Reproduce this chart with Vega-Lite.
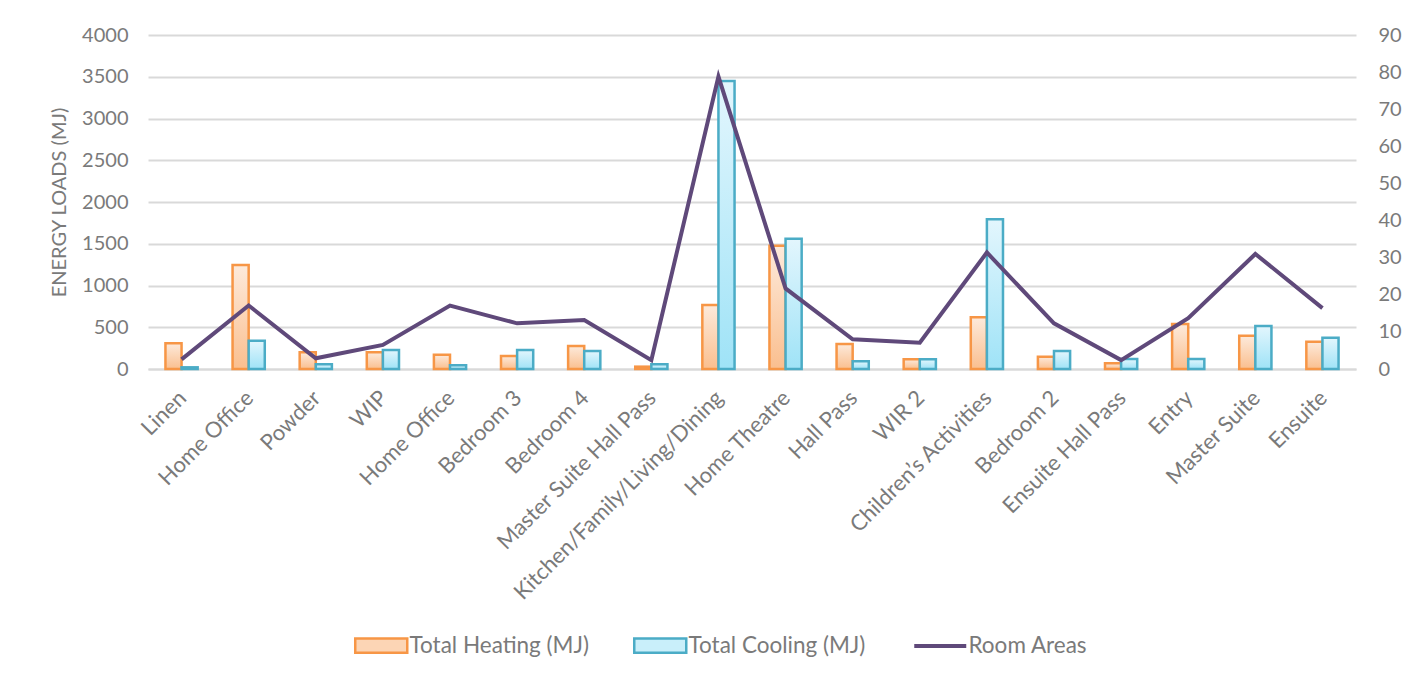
{
  "$schema": "https://vega.github.io/schema/vega-lite/v6.json",
  "width": 1208,
  "height": 334,
  "autosize": {"type": "none"},
  "padding": {"left": 148, "top": 35, "right": 69, "bottom": 310},
  "background": "white",
  "config": {
    "view": {"stroke": null},
    "font": "Lato",
    "axis": {
      "labelFont": "Lato",
      "labelFontSize": 20,
      "labelColor": "#7a7a7a",
      "domain": false,
      "ticks": false,
      "titleFont": "Lato",
      "titleColor": "#7a7a7a",
      "titleFontWeight": "normal"
    },
    "axisX": {
      "labelAngle": -45,
      "labelPadding": 18,
      "labelOffset": -6,
      "labelFontSize": 22,
      "labelLimit": 0,
      "grid": false,
      "domain": true,
      "domainColor": "#d9d9d9",
      "domainWidth": 2,
      "title": null,
      "labelExpr": "replace(datum.label, '#2', '')"
    },
    "axisY": {"gridColor": "#d9d9d9", "gridWidth": 2, "labelPadding": 20, "format": "d"},
    "legend": {
      "orient": "none", "legendX": 222, "legendY": 599, "direction": "horizontal", "title": null,
      "labelFont": "Lato", "labelFontSize": 22.5, "labelColor": "#7a7a7a", "labelLimit": 0,
      "symbolSize": 2704, "columnPadding": 40, "labelOffset": 17
    }
  },
  "data": {
    "values": [
      {"room": "Linen", "Total Heating (MJ)": 308, "Total Cooling (MJ)": 20, "area": 2.6},
      {"room": "Home Office", "Total Heating (MJ)": 1246, "Total Cooling (MJ)": 339, "area": 17.1},
      {"room": "Powder", "Total Heating (MJ)": 200, "Total Cooling (MJ)": 56, "area": 2.9},
      {"room": "WIP", "Total Heating (MJ)": 200, "Total Cooling (MJ)": 228, "area": 6.5},
      {"room": "Home Office#2", "Total Heating (MJ)": 171, "Total Cooling (MJ)": 44, "area": 17.1},
      {"room": "Bedroom 3", "Total Heating (MJ)": 156, "Total Cooling (MJ)": 228, "area": 12.3},
      {"room": "Bedroom 4", "Total Heating (MJ)": 276, "Total Cooling (MJ)": 216, "area": 13.2},
      {"room": "Master Suite Hall Pass", "Total Heating (MJ)": 28, "Total Cooling (MJ)": 56, "area": 2.4},
      {"room": "Kitchen/Family/Living/Dining", "Total Heating (MJ)": 767, "Total Cooling (MJ)": 3450, "area": 78.8},
      {"room": "Home Theatre", "Total Heating (MJ)": 1477, "Total Cooling (MJ)": 1561, "area": 21.7},
      {"room": "Hall Pass", "Total Heating (MJ)": 300, "Total Cooling (MJ)": 92, "area": 8.0},
      {"room": "WIR 2", "Total Heating (MJ)": 116, "Total Cooling (MJ)": 116, "area": 7.1},
      {"room": "Children’s Activities", "Total Heating (MJ)": 619, "Total Cooling (MJ)": 1793, "area": 31.4},
      {"room": "Bedroom 2", "Total Heating (MJ)": 148, "Total Cooling (MJ)": 216, "area": 12.3},
      {"room": "Ensuite Hall Pass", "Total Heating (MJ)": 68, "Total Cooling (MJ)": 120, "area": 2.4},
      {"room": "Entry", "Total Heating (MJ)": 539, "Total Cooling (MJ)": 120, "area": 13.7},
      {"room": "Master Suite", "Total Heating (MJ)": 399, "Total Cooling (MJ)": 515, "area": 31.0},
      {"room": "Ensuite", "Total Heating (MJ)": 327, "Total Cooling (MJ)": 375, "area": 16.4}
    ]
  },
  "layer": [
    {
      "layer": [
        {
          "transform": [
            {"fold": ["Total Heating (MJ)", "Total Cooling (MJ)"], "as": ["series", "value"]},
            {"filter": "datum.series === 'Total Heating (MJ)'"}
          ],
          "mark": {
            "type": "bar",
            "strokeWidth": 2.5,
            "fill": {"gradient": "linear", "x1": 0, "y1": 0, "x2": 0, "y2": 1,
              "stops": [{"offset": 0, "color": "#fdeadb"}, {"offset": 1, "color": "#fabf8f"}]}
          },
          "encoding": {
            "x": {"field": "room", "type": "nominal", "sort": null, "scale": {"paddingInner": 0.52, "paddingOuter": 0.26}},
            "xOffset": {"field": "series", "type": "nominal", "scale": {"domain": ["Total Heating (MJ)", "Total Cooling (MJ)"]}},
            "y": {"field": "value", "type": "quantitative", "scale": {"domain": [0, 4000]}, "axis": {"values": [0, 500, 1000, 1500, 2000, 2500, 3000, 3500, 4000], "title": "ENERGY LOADS (MJ)", "titleFontSize": 20, "titlePadding": 12}},
            "stroke": {
              "field": "series", "type": "nominal",
              "scale": {"domain": ["Total Heating (MJ)", "Total Cooling (MJ)", "Room Areas"], "range": ["#f79646", "#4bacc6", "#5f497a"]},
              "legend": {
                "symbolSize": 2704, "labelLimit": 0,
                "encode": {"symbols": {"update": {
                  "shape": {"signal": "datum.value === 'Room Areas' ? 'M-1,0H1' : 'M-1,-0.27H1V0.27H-1Z'"},
                  "fill": {"signal": "datum.value === 'Total Heating (MJ)' ? '#fcd5b5' : datum.value === 'Total Cooling (MJ)' ? '#c9effa' : 'transparent'"},
                  "strokeWidth": {"signal": "datum.value === 'Room Areas' ? 4 : 2.5"},
                  "opacity": {"value": 1}
                }}}
              }
            }
          }
        },
        {
          "transform": [
            {"fold": ["Total Heating (MJ)", "Total Cooling (MJ)"], "as": ["series", "value"]},
            {"filter": "datum.series === 'Total Cooling (MJ)'"}
          ],
          "mark": {
            "type": "bar",
            "strokeWidth": 2.5,
            "fill": {"gradient": "linear", "x1": 0, "y1": 0, "x2": 0, "y2": 1,
              "stops": [{"offset": 0, "color": "#e3f6fd"}, {"offset": 1, "color": "#9fe3f7"}]}
          },
          "encoding": {
            "x": {"field": "room", "type": "nominal", "sort": null},
            "xOffset": {"field": "series", "type": "nominal", "scale": {"domain": ["Total Heating (MJ)", "Total Cooling (MJ)"]}},
            "y": {"field": "value", "type": "quantitative"},
            "stroke": {"field": "series", "type": "nominal",
              "legend": {
                "symbolSize": 2704, "labelLimit": 0,
                "encode": {"symbols": {"update": {
                  "shape": {"signal": "datum.value === 'Room Areas' ? 'M-1,0H1' : 'M-1,-0.27H1V0.27H-1Z'"},
                  "fill": {"signal": "datum.value === 'Total Heating (MJ)' ? '#fcd5b5' : datum.value === 'Total Cooling (MJ)' ? '#c9effa' : 'transparent'"},
                  "strokeWidth": {"signal": "datum.value === 'Room Areas' ? 4 : 2.5"},
                  "opacity": {"value": 1}
                }}}
              }}
          }
        }
      ]
    },
    {
      "mark": {"type": "line", "strokeWidth": 4},
      "encoding": {
        "x": {"field": "room", "type": "nominal", "sort": null},
        "y": {"field": "area", "type": "quantitative", "scale": {"domain": [0, 90]}, "axis": {"orient": "right", "title": null, "grid": false, "values": [0, 10, 20, 30, 40, 50, 60, 70, 80, 90], "labelPadding": 22}},
        "stroke": {"datum": "Room Areas", "type": "nominal",
          "legend": {
            "symbolSize": 2704, "labelLimit": 0,
            "encode": {"symbols": {"update": {
              "shape": {"signal": "datum.value === 'Room Areas' ? 'M-1,0H1' : 'M-1,-0.27H1V0.27H-1Z'"},
              "fill": {"signal": "datum.value === 'Total Heating (MJ)' ? '#fcd5b5' : datum.value === 'Total Cooling (MJ)' ? '#c9effa' : 'transparent'"},
              "strokeWidth": {"signal": "datum.value === 'Room Areas' ? 4 : 2.5"},
              "opacity": {"value": 1}
            }}}
          }}
      }
    }
  ],
  "resolve": {"scale": {"y": "independent"}}
}
